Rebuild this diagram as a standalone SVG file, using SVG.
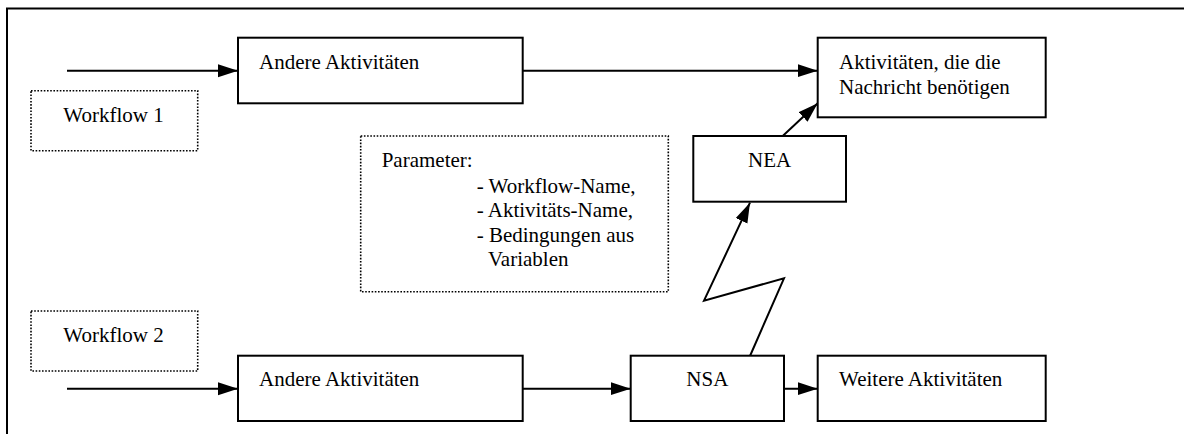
<svg xmlns="http://www.w3.org/2000/svg" width="1184" height="434" viewBox="0 0 1184 434">
<style>
.box{fill:#fff;stroke:#000;stroke-width:2}
.dot{fill:#fff;stroke:#000;stroke-width:1.6;stroke-dasharray:1.6 1.6}
.frame{fill:none;stroke:#000;stroke-width:2}
.con{fill:none;stroke:#000;stroke-width:2}
text{font-family:"Liberation Serif","Times New Roman",serif;font-size:21px;fill:#000}
</style>
<defs>
<marker id="ah" markerUnits="userSpaceOnUse" markerWidth="20" markerHeight="14" refX="20" refY="6.5" orient="auto">
<path d="M0,0 L20,6.5 L0,13 z" fill="#000"/>
</marker>
</defs>
<g id="frame">
<path class="frame" d="M7,434 L7,8.5 L1184,8.5"/>
</g>
<g id="connectors">
<line class="con" x1="67" y1="70.7" x2="238" y2="70.7" marker-end="url(#ah)"/>
<line class="con" x1="522.7" y1="70.7" x2="817.7" y2="70.7" marker-end="url(#ah)"/>
<line class="con" x1="782.7" y1="136" x2="817.7" y2="103.3" marker-end="url(#ah)"/>
<polyline class="con" points="750,356 784,278.3 704,300.7 750,202.7" marker-end="url(#ah)"/>
<line class="con" x1="67" y1="388.7" x2="238" y2="388.7" marker-end="url(#ah)"/>
<line class="con" x1="522.7" y1="388.7" x2="630.7" y2="388.7" marker-end="url(#ah)"/>
<line class="con" x1="784" y1="388.7" x2="817.7" y2="388.7" marker-end="url(#ah)"/>
</g>
<g id="andere1">
<rect class="box" x="238" y="37.7" width="284.7" height="65.6"/>
<text x="259" y="69">Andere Aktivitäten</text>
</g>
<g id="workflow1">
<rect class="dot" x="31" y="90.7" width="166.7" height="60"/>
<text x="63.3" y="122.3">Workflow 1</text>
</g>
<g id="benoetigen">
<rect class="box" x="817.7" y="37.7" width="228" height="79.6"/>
<text x="839" y="69">Aktivitäten, die die</text>
<text x="839" y="94">Nachricht benötigen</text>
</g>
<g id="parameter">
<rect class="dot" x="360.7" y="136" width="307.6" height="155.7"/>
<text x="381.7" y="167">Parameter:</text>
<text x="476.7" y="192.5">- Workflow-Name,</text>
<text x="476.7" y="217">- Aktivitäts-Name,</text>
<text x="476.7" y="241.5">- Bedingungen aus</text>
<text x="488" y="266">Variablen</text>
</g>
<g id="nea">
<rect class="box" x="693.3" y="136" width="152.7" height="65.7"/>
<text x="769.7" y="166.7" text-anchor="middle">NEA</text>
</g>
<g id="workflow2">
<rect class="dot" x="31" y="311" width="166.7" height="60"/>
<text x="63.3" y="342.3">Workflow 2</text>
</g>
<g id="andere2">
<rect class="box" x="238" y="355.7" width="284.7" height="65.3"/>
<text x="259" y="385.7">Andere Aktivitäten</text>
</g>
<g id="nsa">
<rect class="box" x="630.7" y="355.7" width="153.3" height="65.3"/>
<text x="707.3" y="385.7" text-anchor="middle">NSA</text>
</g>
<g id="weitere">
<rect class="box" x="817.7" y="355.7" width="228" height="65.3"/>
<text x="839" y="385.7">Weitere Aktivitäten</text>
</g>
</svg>
